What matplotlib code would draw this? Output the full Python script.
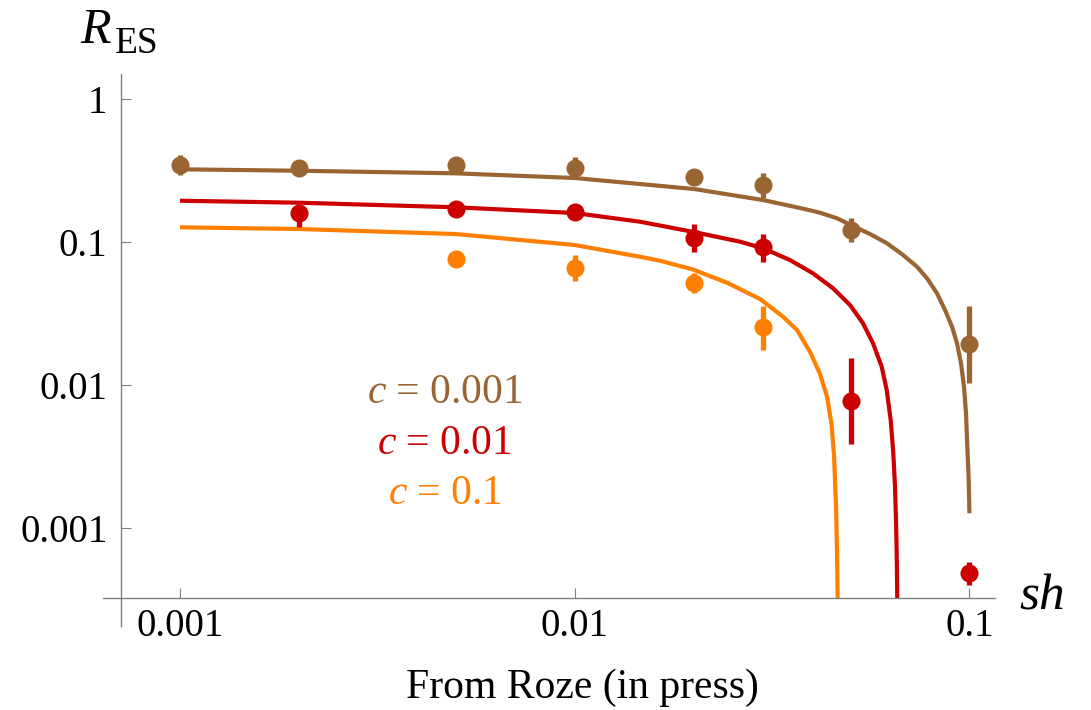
import matplotlib
matplotlib.use("Agg")
import matplotlib.pyplot as plt
import matplotlib.transforms as mtransforms
from matplotlib.ticker import FixedLocator, FixedFormatter, NullLocator
import numpy as np

SERIF = "Liberation Serif"
plt.rcParams["font.family"] = "serif"
plt.rcParams["font.serif"] = [SERIF]
plt.rcParams["mathtext.fontset"] = "custom"
plt.rcParams["mathtext.rm"] = SERIF
plt.rcParams["mathtext.it"] = SERIF + ":italic"

# ---------------- data ----------------
c_values = ["0.001", "0.01", "0.1"]
colors = ["#996633", "#CC0000", "#FF8000"]

# simulation points (value, lower end, upper end of error bar)
sh_c001 = [0.001, 0.002, 0.005, 0.01, 0.02, 0.03, 0.05, 0.1]
R_c001 = [0.3455, 0.327, 0.3455, 0.327, 0.286, 0.2505, 0.1213, 0.01925]
R_c001_lo = [0.2942, 0.327, 0.3032, 0.2858, 0.286, 0.2021, 0.1005, 0.01027]
R_c001_hi = [0.4067, 0.327, 0.3934, 0.3905, 0.286, 0.3025, 0.1463, 0.03566]

sh_c01 = [0.002, 0.005, 0.01, 0.02, 0.03, 0.05, 0.1]
R_c01 = [0.160, 0.169, 0.161, 0.106, 0.0918, 0.00777, 0.000482]
R_c01_lo = [0.1281, 0.169, 0.161, 0.0857, 0.0721, 0.003839, 0.000399]
R_c01_hi = [0.1788, 0.169, 0.161, 0.1329, 0.1135, 0.01557, 0.000577]

sh_c1 = [0.005, 0.01, 0.02, 0.03]
R_c1 = [0.0757, 0.0655, 0.0514, 0.0253]
R_c1_lo = [0.0757, 0.0538, 0.0439, 0.01757]
R_c1_hi = [0.0757, 0.0812, 0.0608, 0.03566]

# model curves
curve_sh_c001 = [0.001, 0.002, 0.005, 0.01, 0.01463, 0.02006, 0.03, 0.03723,
                 0.04183, 0.0462, 0.05071, 0.05601, 0.06184, 0.06789, 0.07366,
                 0.07809, 0.08278, 0.08674, 0.09035, 0.09302, 0.09521, 0.09689,
                 0.09804, 0.09879, 0.09959, 0.1]
curve_R_c001 = [0.3224, 0.3151, 0.3022, 0.2803, 0.2544, 0.2348, 0.1966, 0.1729,
                0.1603, 0.1465, 0.1294, 0.1137, 0.09793, 0.08113, 0.0672,
                0.05574, 0.04378, 0.03345, 0.02557, 0.01956, 0.01418, 0.00973,
                0.00634, 0.0037, 0.002166, 0.001267]

curve_sh_c01 = [0.001, 0.002, 0.005, 0.01, 0.01463, 0.02006, 0.02623, 0.03,
                0.0351, 0.04015, 0.04513, 0.04983, 0.05375, 0.05699, 0.05995,
                0.06172, 0.06318, 0.06415, 0.06479, 0.06516, 0.06543, 0.06566]
curve_R_c01 = [0.1944, 0.1883, 0.1749, 0.1595, 0.1387, 0.1174, 0.1005, 0.09035,
               0.07482, 0.06041, 0.04746, 0.03626, 0.02701, 0.01957, 0.01343,
               0.009226, 0.00569, 0.00333, 0.001944, 0.001137, 0.000665, 0.0003]

curve_sh_c1 = [0.001, 0.002, 0.005, 0.01, 0.01463, 0.01645, 0.01994, 0.02431,
               0.02948, 0.03371, 0.03658, 0.03948, 0.04183, 0.04358, 0.04473,
               0.0454, 0.04592, 0.0462, 0.04638]
curve_R_c1 = [0.1267, 0.1233, 0.1137, 0.09528, 0.07889, 0.07398, 0.06422, 0.05193,
              0.03995, 0.03003, 0.02424, 0.01701, 0.01194, 0.008282, 0.005337,
              0.003188, 0.001448, 0.000669, 0.0003]

x_ticks = [0.001, 0.01, 0.1]
x_tick_labels = ["0.001", "0.01", "0.1"]
y_ticks = [1, 0.1, 0.01, 0.001]
y_tick_labels = ["1", "0.1", "0.01", "0.001"]

# ---------------- figure ----------------
W, H = 1091, 710
fig = plt.figure(figsize=(W / 100, H / 100), dpi=100)
ax = fig.add_axes([103 / W, 1 - 598 / H, (995 - 103) / W, (598 - 74) / H])
ax.set_xscale("log")
ax.set_yscale("log")
ax.set_xlim(6.38e-4, 0.1161)
ax.set_ylim(3.24e-4, 1.496)

axis_gray = "#808080"
y_axis_x = 7.10e-4
for s in ["top", "right"]:
    ax.spines[s].set_visible(False)
ax.spines["left"].set_position(("data", y_axis_x))
for s in ["left", "bottom"]:
    ax.spines[s].set_color(axis_gray)
    ax.spines[s].set_linewidth(1.0)
# the vertical axis continues a little below the horizontal one
trans = mtransforms.blended_transform_factory(ax.transData, ax.transAxes)
ax.plot([y_axis_x, y_axis_x], [-29 / 524, 0], transform=trans, color=axis_gray,
        lw=1.0, clip_on=False, solid_capstyle="butt")

ax.xaxis.set_major_locator(FixedLocator(x_ticks))
ax.xaxis.set_major_formatter(FixedFormatter(x_tick_labels))
ax.yaxis.set_major_locator(FixedLocator(y_ticks))
ax.yaxis.set_major_formatter(FixedFormatter(y_tick_labels))
ax.xaxis.set_minor_locator(NullLocator())
ax.yaxis.set_minor_locator(NullLocator())
ax.tick_params(axis="both", direction="in", length=7.2, width=0.8,
               color=axis_gray, labelsize=28, labelcolor="black",
               labelfontfamily=SERIF)
ax.tick_params(axis="x", pad=7)
ax.tick_params(axis="y", pad=10)

curves = [(curve_sh_c001, curve_R_c001), (curve_sh_c01, curve_R_c01),
          (curve_sh_c1, curve_R_c1)]
points = [(sh_c001, R_c001, R_c001_lo, R_c001_hi),
          (sh_c01, R_c01, R_c01_lo, R_c01_hi),
          (sh_c1, R_c1, R_c1_lo, R_c1_hi)]

for (cs, cr), (ps, pr, plo, phi), col in zip(curves, points, colors):
    ax.plot(cs, cr, color=col, lw=3.0, solid_joinstyle="round",
            solid_capstyle="butt", zorder=2)
    pr = np.array(pr)
    yerr = [pr - np.array(plo), np.array(phi) - pr]
    ax.errorbar(ps, pr, yerr=yerr, fmt="o", ms=13, mew=0, color=col,
                ecolor=col, elinewidth=3.8, capsize=0, zorder=3)

# axis names and caption
fig.text(80 / W, 1 - 43 / H, "R", fontsize=36, fontstyle="italic",
         family=SERIF, ha="left", va="baseline")
fig.text(115 / W, 1 - 53 / H, "ES", fontsize=27, family=SERIF,
         ha="left", va="baseline")
fig.text(1019 / W, 1 - 610 / H, "sh", fontsize=37, fontstyle="italic",
         family=SERIF, ha="left", va="baseline")
fig.text(582 / W, 1 - 698 / H, "From Roze (in press)", fontsize=30,
         family=SERIF, ha="center", va="baseline")

# curve labels
for i, (cv, col) in enumerate(zip(c_values, colors)):
    fig.text(445 / W, 1 - (403 + 50.5 * i) / H, r"$c$ = " + cv, fontsize=30,
             family=SERIF, color=col, ha="center", va="baseline")

fig.savefig("out.png", dpi=100)
